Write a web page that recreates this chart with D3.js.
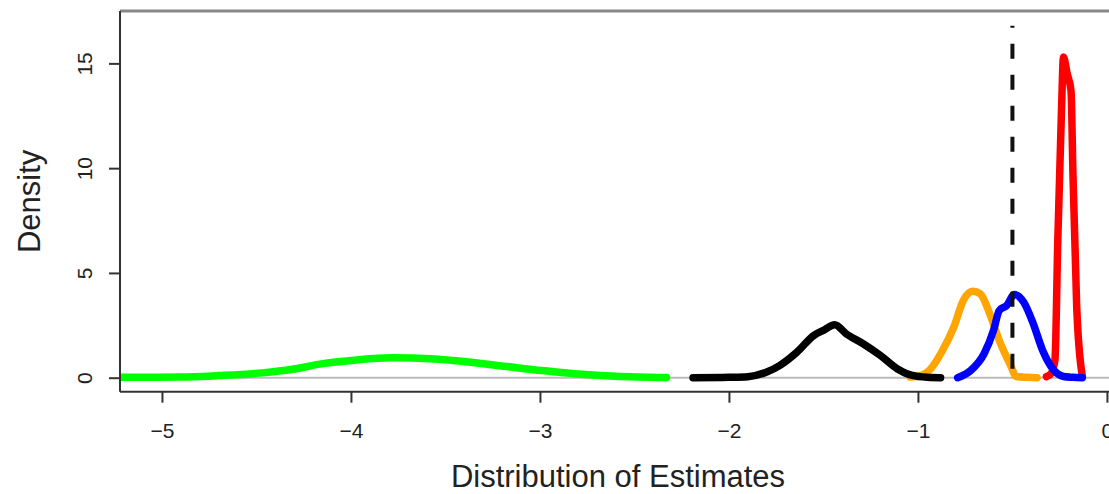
<!DOCTYPE html>
<html>
<head>
<meta charset="utf-8">
<script src="https://cdn.jsdelivr.net/npm/d3@7"></script>
<style>
  body { margin: 0; background: #fff; }
  svg { font-family: "Liberation Sans", Arial, sans-serif; }
</style>
</head>
<body>
<div id="chart"></div>
<script>
// density curves
const greenX = [-5.22, -4.9, -4.7, -4.47, -4.31, -4.15, -3.97, -3.78, -3.58, -3.39, -3.19, -2.99, -2.80, -2.60, -2.33];
const greenY = [0.02, 0.03, 0.1, 0.23, 0.4, 0.67, 0.85, 0.95, 0.9, 0.76, 0.55, 0.34, 0.18, 0.07, 0.01];

const blackX = [-2.19, -2.0, -1.90, -1.80, -1.73, -1.64, -1.55, -1.50, -1.44, -1.38, -1.29, -1.20, -1.11, -1.03, -0.95, -0.88];
const blackY = [0.0, 0.02, 0.05, 0.27, 0.59, 1.22, 2.02, 2.26, 2.53, 2.1, 1.62, 1.07, 0.43, 0.11, 0.02, 0.0];

const orangeX = [-1.04, -0.98, -0.94, -0.87, -0.81, -0.76, -0.71, -0.67, -0.62, -0.57, -0.51, -0.48, -0.42, -0.37];
const orangeY = [0.03, 0.12, 0.35, 1.3, 2.42, 3.69, 4.13, 4.0, 3.05, 1.78, 0.59, 0.06, 0.02, 0.0];

const blueX = [-0.79, -0.72, -0.65, -0.60, -0.57, -0.53, -0.49, -0.44, -0.39, -0.34, -0.28, -0.23, -0.18, -0.13];
const blueY = [0.0, 0.35, 1.14, 2.26, 3.2, 3.45, 3.97, 3.6, 2.58, 1.3, 0.35, 0.06, 0.02, 0.0];

const redX = [-0.32, -0.295, -0.275, -0.26, -0.24, -0.23, -0.21, -0.19, -0.18, -0.16, -0.13];
const redY = [0.05, 0.2, 0.84, 6.57, 12.9, 15.3, 14.5, 13.7, 9.8, 3.4, 0.05];

const trueValue = -0.5;
const xTicks = [-5, -4, -3, -2, -1, 0];
const yTicks = [0, 5, 10, 15];

const width = 1109, height = 494;
const plotLeft = 120, plotRight = 1116, plotTop = 11, plotBottom = 391.7;

const svg = d3.select("#chart").append("svg")
    .attr("width", width)
    .attr("height", height);

const x = d3.scaleLinear().domain([-5.222, 0.048]).range([plotLeft, plotRight]);
const y = d3.scaleLinear().domain([-0.668, 17.5]).range([plotBottom, plotTop]);

svg.append("clipPath").attr("id", "plotclip")
  .append("rect")
    .attr("x", plotLeft).attr("y", plotTop)
    .attr("width", plotRight - plotLeft).attr("height", plotBottom - plotTop);

const plot = svg.append("g").attr("clip-path", "url(#plotclip)");

// zero reference line
plot.append("line")
    .attr("x1", plotLeft).attr("x2", plotRight)
    .attr("y1", y(0)).attr("y2", y(0))
    .attr("stroke", "#bbb")
    .attr("stroke-width", 2);

const line = d3.line()
    .x(d => x(d[0]))
    .y(d => y(d[1]))
    .curve(d3.curveMonotoneX);

const series = [
    { xs: greenX, ys: greenY, color: "#00ff00" },
    { xs: orangeX, ys: orangeY, color: "#ffa500" },
    { xs: blackX, ys: blackY, color: "#000" },
    { xs: redX, ys: redY, color: "#ff0000" },
    { xs: blueX, ys: blueY, color: "#0000ff" }
];

plot.selectAll("path.curve")
    .data(series)
    .enter().append("path")
    .attr("class", "curve")
    .attr("d", s => line(d3.zip(s.xs, s.ys)))
    .attr("fill", "none")
    .attr("stroke", s => s.color)
    .attr("stroke-width", 7.5)
    .attr("stroke-linecap", "round")
    .attr("stroke-linejoin", "round");

// true value marker
plot.append("line")
    .attr("x1", x(trueValue)).attr("x2", x(trueValue))
    .attr("y1", y(16.8)).attr("y2", y(0))
    .attr("stroke", "#111")
    .attr("stroke-width", 4)
    .attr("stroke-dasharray", "15,16")
    .attr("stroke-dashoffset", 13);

// box (right side is outside the picture)
svg.append("line")
    .attr("x1", plotLeft).attr("x2", width)
    .attr("y1", plotTop).attr("y2", plotTop)
    .attr("stroke", "#888").attr("stroke-width", 3);
svg.append("line")
    .attr("x1", plotLeft).attr("x2", width)
    .attr("y1", plotBottom).attr("y2", plotBottom)
    .attr("stroke", "#333").attr("stroke-width", 2);
svg.append("line")
    .attr("x1", plotLeft).attr("x2", plotLeft)
    .attr("y1", plotTop).attr("y2", plotBottom)
    .attr("stroke", "#333").attr("stroke-width", 2);

// axes
const xAxis = svg.append("g")
    .attr("transform", `translate(0,${plotBottom})`)
    .call(d3.axisBottom(x).tickValues(xTicks).tickSize(11).tickFormat(d => d === 0 ? "0" : "\u2212" + Math.abs(d)));
xAxis.select(".domain").remove();
xAxis.selectAll(".tick line").attr("stroke", "#333").attr("stroke-width", 2);
xAxis.selectAll(".tick text")
    .attr("y", 46).attr("dy", 0)
    .attr("fill", "#222")
    .style("font-size", "21px");

const yAxis = svg.append("g")
    .attr("transform", `translate(${plotLeft},0)`)
    .call(d3.axisLeft(y).tickValues(yTicks).tickSize(11));
yAxis.select(".domain").remove();
yAxis.selectAll(".tick line").attr("stroke", "#333").attr("stroke-width", 2);
yAxis.selectAll(".tick text")
    .attr("x", 0).attr("dy", 0)
    .attr("text-anchor", "middle")
    .attr("transform", "translate(-28,0) rotate(-90)")
    .attr("fill", "#222")
    .style("font-size", "21px");

// axis titles
svg.append("text")
    .attr("x", (plotLeft + plotRight) / 2)
    .attr("y", 487)
    .attr("text-anchor", "middle")
    .attr("fill", "#222")
    .style("font-size", "31px")
    .text("Distribution of Estimates");

svg.append("text")
    .attr("transform", `translate(40,${(plotTop + plotBottom) / 2}) rotate(-90)`)
    .attr("text-anchor", "middle")
    .attr("fill", "#222")
    .style("font-size", "31px")
    .text("Density");
</script>
</body>
</html>
